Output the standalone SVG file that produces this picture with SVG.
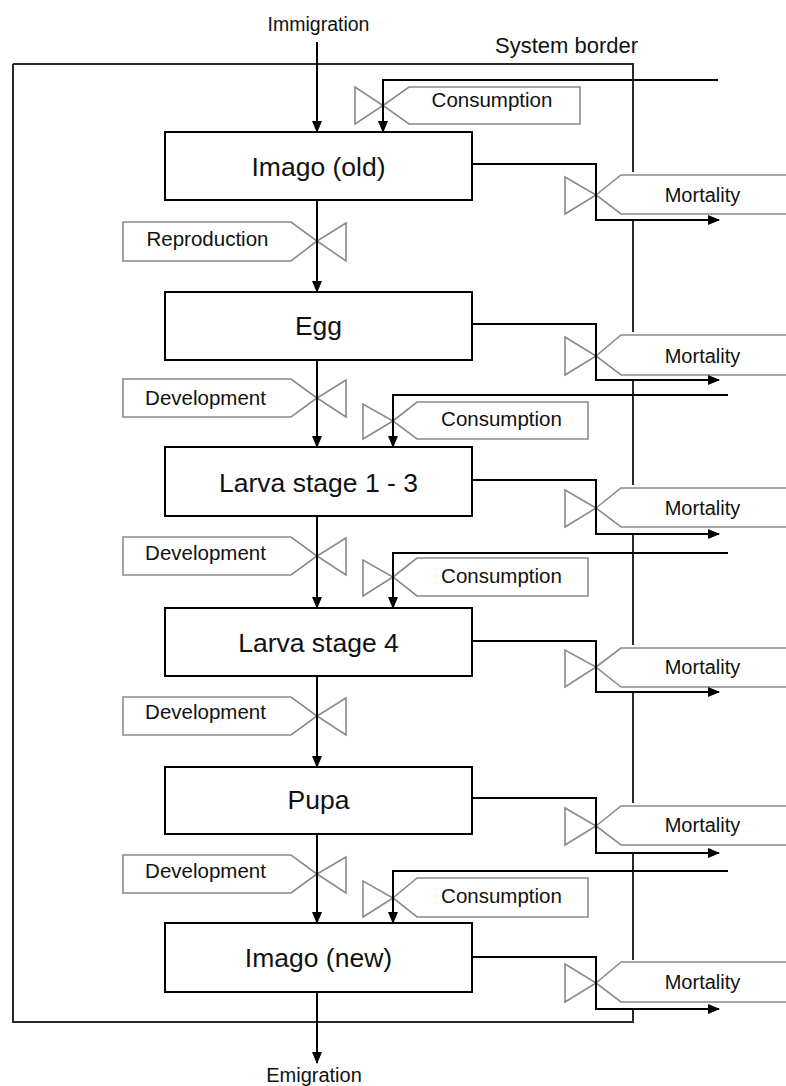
<svg xmlns="http://www.w3.org/2000/svg" width="786" height="1086" viewBox="0 0 786 1086">
<style>
.box{fill:#fff;stroke:#000;stroke-width:2}
.lbl{fill:#fff;stroke:#8a8a8a;stroke-width:1.6}
.valve{fill:none;stroke:#8a8a8a;stroke-width:1.6}
.flow{fill:none;stroke:#000;stroke-width:2}
.border{fill:none;stroke:#2a2a2a;stroke-width:2}
text{font-family:"Liberation Sans",Arial,sans-serif;fill:#111;text-anchor:middle}
.tb{font-size:26.5px}
.ts{font-size:20.5px}
.tm{font-size:20px}
</style>
<defs>
<marker id="arr" markerUnits="userSpaceOnUse" markerWidth="12" markerHeight="10" refX="11" refY="5" orient="auto"><path d="M0,0 L12,5 L0,10 Z" fill="#000"/></marker>
</defs>
<rect width="786" height="1086" fill="#fff"/>
<g id="system-border">
<path class="border" d="M13,64 H633 V172 M633,220 V332 M633,380 V485 M633,533 V645 M633,692 V803 M633,852 V960 M633,1008 V1022 H13 V64"/>
<text class="tm" x="566.5" y="53" style="font-size:22px">System border</text>
</g>
<g id="ext-labels">
<text class="ts" x="318.5" y="31" style="font-size:19.5px">Immigration</text>
<text class="ts" x="314" y="1082" style="font-size:20px">Emigration</text>
</g>
<g id="valves">
<g id="consumption-imago-old"><path class="valve" d="M355,87 V124 L383,105.5 Z"/><path class="lbl" d="M383,105.5 L409,87 H580 V124 H409 Z"/><text class="ts" x="492" y="107">Consumption</text></g>
<g id="mortality-imago-old"><path class="valve" d="M565,177 V214 L596,195 Z"/><path class="lbl" d="M596,195 L621,175 H790 V214 H621 Z"/><text class="tm" x="702.5" y="202">Mortality</text></g>
<g id="reproduction"><path class="valve" d="M346,223 V261 L317,241 Z"/><path class="lbl" d="M123,222 H291 L317,241 L291,261 H123 Z"/><text class="ts" x="207.5" y="246">Reproduction</text></g>
<g id="mortality-egg"><path class="valve" d="M565,337 V375 L596,356 Z"/><path class="lbl" d="M596,356 L621,335 H790 V375 H621 Z"/><text class="tm" x="702.5" y="363">Mortality</text></g>
<g id="development-egg"><path class="valve" d="M346,380 V417 L317,398 Z"/><path class="lbl" d="M123,379 H291 L317,398 L291,417 H123 Z"/><text class="ts" x="205.5" y="405">Development</text></g>
<g id="consumption-larva13"><path class="valve" d="M363,404 V439 L393,421 Z"/><path class="lbl" d="M393,421 L417,402 H588 V439 H417 Z"/><text class="ts" x="501.5" y="426">Consumption</text></g>
<g id="mortality-larva13"><path class="valve" d="M565,490 V527 L596,508 Z"/><path class="lbl" d="M596,508 L621,488 H790 V527 H621 Z"/><text class="tm" x="702.5" y="515">Mortality</text></g>
<g id="development-larva13"><path class="valve" d="M346,538 V575 L317,556 Z"/><path class="lbl" d="M123,537 H291 L317,556 L291,575 H123 Z"/><text class="ts" x="205.5" y="560">Development</text></g>
<g id="consumption-larva4"><path class="valve" d="M363,560 V596 L393,577 Z"/><path class="lbl" d="M393,577 L417,558 H588 V596 H417 Z"/><text class="ts" x="501.5" y="583">Consumption</text></g>
<g id="mortality-larva4"><path class="valve" d="M565,650 V687 L596,667 Z"/><path class="lbl" d="M596,667 L621,648 H790 V687 H621 Z"/><text class="tm" x="702.5" y="674">Mortality</text></g>
<g id="development-larva4"><path class="valve" d="M346,698 V735 L317,716 Z"/><path class="lbl" d="M123,697 H291 L317,716 L291,735 H123 Z"/><text class="ts" x="205.5" y="719">Development</text></g>
<g id="mortality-pupa"><path class="valve" d="M565,808 V845 L596,826 Z"/><path class="lbl" d="M596,826 L621,806 H790 V845 H621 Z"/><text class="tm" x="702.5" y="832">Mortality</text></g>
<g id="development-pupa"><path class="valve" d="M346,857 V893 L317,874 Z"/><path class="lbl" d="M123,855 H291 L317,874 L291,893 H123 Z"/><text class="ts" x="205.5" y="878">Development</text></g>
<g id="consumption-imago-new"><path class="valve" d="M363,881 V917 L393,898 Z"/><path class="lbl" d="M393,898 L417,878 H588 V917 H417 Z"/><text class="ts" x="501.5" y="903">Consumption</text></g>
<g id="mortality-imago-new"><path class="valve" d="M565,964 V1002 L596,983 Z"/><path class="lbl" d="M596,983 L621,962 H790 V1002 H621 Z"/><text class="tm" x="702.5" y="989">Mortality</text></g>
</g>
<g id="connectors">
<path class="flow" d="M317,42 V132" marker-end="url(#arr)"/>
<path class="flow" d="M718,80 H383 V132" marker-end="url(#arr)"/>
<path class="flow" d="M317,200 V292" marker-end="url(#arr)"/>
<path class="flow" d="M317,360 V447" marker-end="url(#arr)"/>
<path class="flow" d="M317,516 V608" marker-end="url(#arr)"/>
<path class="flow" d="M317,676 V767" marker-end="url(#arr)"/>
<path class="flow" d="M317,834 V923" marker-end="url(#arr)"/>
<path class="flow" d="M317,992 V1063" marker-end="url(#arr)"/>
<path class="flow" d="M728,395 H393 V447" marker-end="url(#arr)"/>
<path class="flow" d="M728,553 H393 V608" marker-end="url(#arr)"/>
<path class="flow" d="M728,871 H393 V923" marker-end="url(#arr)"/>
<path class="flow" d="M472,164 H596 V220 H719" marker-end="url(#arr)"/>
<path class="flow" d="M472,324 H596 V380 H719" marker-end="url(#arr)"/>
<path class="flow" d="M472,480 H596 V534 H719" marker-end="url(#arr)"/>
<path class="flow" d="M472,641 H596 V692 H719" marker-end="url(#arr)"/>
<path class="flow" d="M472,798 H596 V853 H719" marker-end="url(#arr)"/>
<path class="flow" d="M472,957 H596 V1009 H719" marker-end="url(#arr)"/>
</g>
<g id="imago-old"><rect class="box" x="165" y="132" width="307" height="68"/><text class="tb" x="318.5" y="176">Imago (old)</text></g>
<g id="egg"><rect class="box" x="165" y="292" width="307" height="68"/><text class="tb" x="318.5" y="335">Egg</text></g>
<g id="larva-1-3"><rect class="box" x="165" y="447" width="307" height="69"/><text class="tb" x="318.5" y="492">Larva stage 1 - 3</text></g>
<g id="larva-4"><rect class="box" x="165" y="608" width="307" height="68"/><text class="tb" x="318.5" y="652">Larva stage 4</text></g>
<g id="pupa"><rect class="box" x="165" y="767" width="307" height="67"/><text class="tb" x="318.5" y="809">Pupa</text></g>
<g id="imago-new"><rect class="box" x="165" y="923" width="307" height="69"/><text class="tb" x="318.5" y="967">Imago (new)</text></g>
</svg>
